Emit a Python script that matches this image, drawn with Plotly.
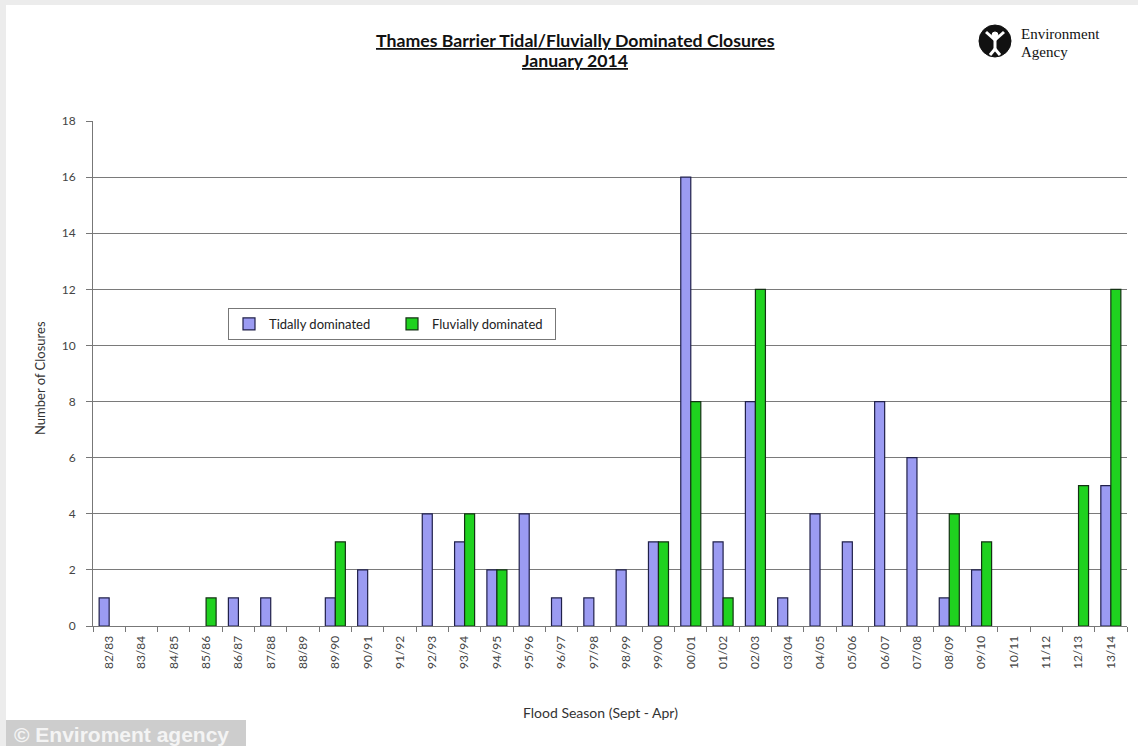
import plotly.graph_objects as go

# Flood seasons (Sept - Apr)
seasons = ["82/83", "83/84", "84/85", "85/86", "86/87", "87/88", "88/89", "89/90",
           "90/91", "91/92", "92/93", "93/94", "94/95", "95/96", "96/97", "97/98",
           "98/99", "99/00", "00/01", "01/02", "02/03", "03/04", "04/05", "05/06",
           "06/07", "07/08", "08/09", "09/10", "10/11", "11/12", "12/13", "13/14"]

tidal = [1, 0, 0, 0, 1, 1, 0, 1,
         2, 0, 4, 3, 2, 4, 1, 1,
         2, 3, 16, 3, 8, 1, 4, 3,
         8, 6, 1, 2, 0, 0, 0, 5]

fluvial = [0, 0, 0, 1, 0, 0, 0, 3,
           0, 0, 0, 4, 2, 0, 0, 0,
           0, 3, 8, 1, 12, 0, 0, 0,
           0, 0, 4, 3, 0, 0, 5, 12]

y_ticks = [0, 2, 4, 6, 8, 10, 12, 14, 16, 18]

W, H = 1138, 746
PL, PR, PT, PB = 93, 1127, 121, 626  # plot area in pixels


def px(x):
    return (x - PL) / (PR - PL)


def py(y):
    return (PB - y) / (PB - PT)


def no_zero(values):
    # seasons without closures get no bar at all
    return [v if v else None for v in values]


fig = go.Figure()
fig.add_trace(go.Bar(
    x=seasons, y=no_zero(tidal), name="Tidally dominated",
    marker=dict(color="#9b9bf2", line=dict(color="#20204a", width=1.2)),
))
fig.add_trace(go.Bar(
    x=seasons, y=no_zero(fluvial), name="Fluvially dominated",
    marker=dict(color="#1fd21f", line=dict(color="#143214", width=1.2)),
))

shapes = []
# light frame around the page and caption strip
shapes.append(dict(type="rect", xref="paper", yref="paper",
                   x0=px(0), x1=px(W), y0=py(0), y1=py(5),
                   fillcolor="#ececec", line=dict(width=0), layer="below"))
shapes.append(dict(type="rect", xref="paper", yref="paper",
                   x0=px(0), x1=px(6), y0=py(0), y1=py(H),
                   fillcolor="#ececec", line=dict(width=0), layer="below"))
shapes.append(dict(type="rect", xref="paper", yref="paper",
                   x0=px(6), x1=px(246), y0=py(720), y1=py(H),
                   fillcolor="#cdcdcd", line=dict(width=0)))

# Environment Agency emblem
cx, cy, r = 995, 41, 16
shapes.append(dict(type="circle", xref="paper", yref="paper",
                   x0=px(cx - r), x1=px(cx + r), y0=py(cy - r), y1=py(cy + r),
                   fillcolor="#111111", line=dict(color="#111111", width=1)))
figure_path = [((cx, cy - 2), (cx, cy + 8)),
               ((cx, cy + 8), (cx - 5, cy + 14)),
               ((cx, cy + 8), (cx + 5, cy + 14)),
               ((cx, cy - 1), (cx - 9, cy - 9)),
               ((cx, cy - 1), (cx + 9, cy - 9))]
for (a, b) in figure_path:
    shapes.append(dict(type="line", xref="paper", yref="paper",
                       x0=px(a[0]), y0=py(a[1]), x1=px(b[0]), y1=py(b[1]),
                       line=dict(color="white", width=3)))
shapes.append(dict(type="circle", xref="paper", yref="paper",
                   x0=px(cx - 3), x1=px(cx + 3), y0=py(cy - 9), y1=py(cy - 3),
                   fillcolor="white", line=dict(color="white", width=1)))


def note(text, x, y, size, family="Lato", color="#333333", xanchor="center", angle=0):
    return dict(text=text, xref="paper", yref="paper", x=px(x), y=py(y),
                xanchor=xanchor, yanchor="middle", showarrow=False, textangle=angle,
                font=dict(family=family, size=size, color=color))


annotations = [
    note("<b><u>Thames Barrier Tidal/Fluvially Dominated Closures</u></b>", 575, 40, 17.7,
         color="#111111"),
    note("<b><u>January 2014</u></b>", 575, 61, 17.7, color="#111111"),
    note("Environment", 1019, 34, 15, family="Liberation Serif", color="#111111",
         xanchor="left"),
    note("Agency", 1019, 52, 15, family="Liberation Serif", color="#111111",
         xanchor="left"),
    note("Number of Closures", 40, 378, 13, angle=-90),
    note("Flood Season (Sept - Apr)", 600, 712, 14),
    note("<b>© Enviroment agency</b>", 12, 734, 21, family="Liberation Sans",
         color="#f4f4f4", xanchor="left"),
]

fig.update_layout(
    width=W, height=H, autosize=False,
    margin=dict(l=PL, r=W - PR, t=PT, b=H - PB, pad=0),
    paper_bgcolor="white", plot_bgcolor="white",
    barmode="group", bargap=0.38, bargroupgap=0.0,
    showlegend=True,
    legend=dict(orientation="h", x=px(228), y=py(308), xanchor="left", yanchor="top",
                bordercolor="#777777", borderwidth=1, bgcolor="white",
                font=dict(family="Lato", size=13, color="#222222"),
                entrywidth=118, itemwidth=30),
    shapes=shapes, annotations=annotations,
    xaxis=dict(type="category", tickangle=-90, tickson="boundaries",
               ticks="outside", ticklen=5, tickcolor="#777777",
               showline=True, linecolor="#777777", linewidth=1,
               showgrid=False, ticklabelstandoff=4,
               tickfont=dict(family="Lato", size=12, color="#444444")),
    yaxis=dict(range=[0, 18], tickvals=y_ticks, ticks="outside", ticklen=6,
               tickcolor="#777777", showline=True, linecolor="#777777", linewidth=1,
               showgrid=True, gridcolor="#7a7a7a", gridwidth=1, zeroline=False,
               ticklabelstandoff=8,
               tickfont=dict(family="Lato", size=12, color="#444444")),
)

fig.write_html("out.html")
